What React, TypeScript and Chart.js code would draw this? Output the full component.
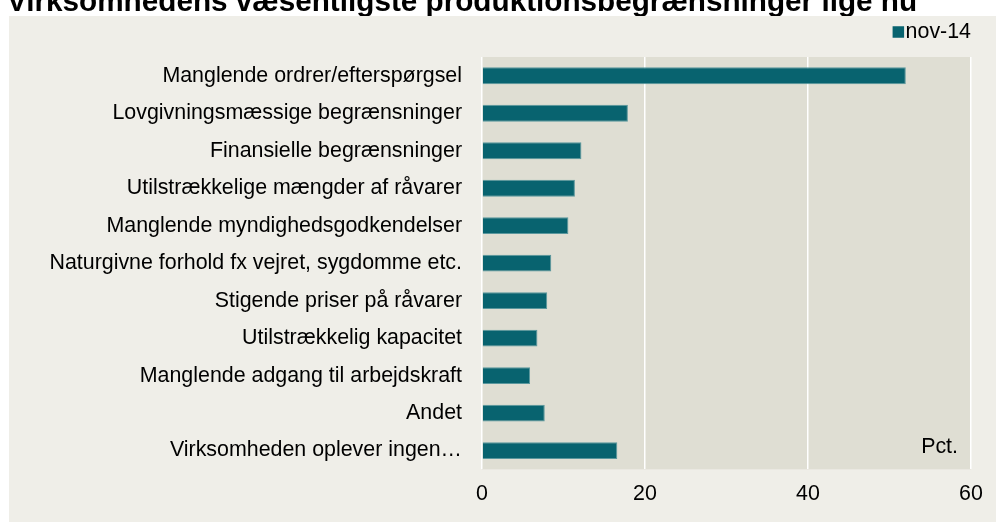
import React, { useEffect, useRef } from "react";
import { Chart, registerables } from "chart.js";

Chart.register(...registerables);

const TITLE = "Virksomhedens væsentligste produktionsbegrænsninger lige nu";
const SERIES_LABEL = "nov-14";
const UNIT_LABEL = "Pct.";

const categories = [
  "Manglende ordrer/efterspørgsel",
  "Lovgivningsmæssige begrænsninger",
  "Finansielle begrænsninger",
  "Utilstrækkelige mængder af råvarer",
  "Manglende myndighedsgodkendelser",
  "Naturgivne forhold fx vejret, sygdomme etc.",
  "Stigende priser på råvarer",
  "Utilstrækkelig kapacitet",
  "Manglende adgang til arbejdskraft",
  "Andet",
  "Virksomheden oplever ingen…",
];

const values = [52.0, 17.9, 12.2, 11.4, 10.6, 8.5, 8.0, 6.8, 5.9, 7.7, 16.6];

const xTicks = [0, 20, 40, 60];

const FONT = "'Liberation Sans', Arial, sans-serif";
const FONT_SIZE = 21.4;
const BAR_COLOR = "#08636f";
const BAR_BORDER = "#5a979d";
const OUTER_BG = "#efeee8";
const PLOT_BG = "#dfded3";

const decor = {
  id: "decor",
  beforeDraw(chart: any) {
    const { ctx, width, height, chartArea } = chart;
    ctx.save();
    ctx.fillStyle = "#ffffff";
    ctx.fillRect(0, 0, width, height);
    ctx.fillStyle = "#000000";
    ctx.font = `bold 29.7px ${FONT}`;
    ctx.textAlign = "left";
    ctx.textBaseline = "alphabetic";
    ctx.fillText(TITLE, 7, 11);
    ctx.fillStyle = OUTER_BG;
    ctx.fillRect(9, 16, width - 9, height - 16);
    ctx.fillStyle = PLOT_BG;
    ctx.fillRect(
      chartArea.left,
      chartArea.top,
      chartArea.right - chartArea.left,
      chartArea.bottom - chartArea.top
    );
    ctx.restore();
  },
  afterDraw(chart: any) {
    const { ctx, chartArea } = chart;
    ctx.save();
    // legend
    ctx.font = `${FONT_SIZE}px ${FONT}`;
    ctx.textBaseline = "middle";
    ctx.textAlign = "left";
    const label = chart.data.datasets[0].label;
    const tw = ctx.measureText(label).width;
    const textX = chartArea.right - tw;
    const cy = 32;
    ctx.fillStyle = chart.data.datasets[0].backgroundColor;
    ctx.fillRect(textX - 13, cy - 5.75, 11.5, 11.5);
    ctx.fillStyle = "#000000";
    ctx.fillText(label, textX, cy);
    // unit label
    ctx.textAlign = "right";
    ctx.fillText(UNIT_LABEL, chartArea.right - 13, chartArea.bottom - 22);
    ctx.restore();
  },
};

export default function App() {
  const ref = useRef<HTMLCanvasElement | null>(null);

  useEffect(() => {
    if (!ref.current) return;
    const chart = new Chart(ref.current, {
      type: "bar",
      data: {
        labels: categories,
        datasets: [
          {
            label: SERIES_LABEL,
            data: values,
            backgroundColor: BAR_COLOR,
            borderColor: BAR_BORDER,
            borderWidth: 1,
            barPercentage: 0.9,
            categoryPercentage: 0.5,
          },
        ],
      },
      options: {
        indexAxis: "y",
        responsive: false,
        animation: false,
        devicePixelRatio: 1,
        layout: { padding: { top: 57, right: 25, left: 0, bottom: 3 } },
        plugins: {
          legend: { display: false },
          title: { display: false },
          tooltip: { enabled: false },
        },
        scales: {
          x: {
            min: 0,
            max: 60,
            afterBuildTicks: (scale: any) => {
              scale.ticks = xTicks.map((v) => ({ value: v }));
            },
            grid: { color: "#ffffff", lineWidth: 1.5, drawTicks: false },
            border: { display: false },
            ticks: {
              padding: 12,
              color: "#000000",
              font: { family: FONT, size: FONT_SIZE },
            },
          },
          y: {
            afterFit: (scale: any) => {
              scale.width = 482;
            },
            grid: { display: false, drawTicks: false },
            border: { display: false },
            ticks: {
              padding: 20,
              color: "#000000",
              autoSkip: false,
              font: { family: FONT, size: FONT_SIZE },
            },
          },
        },
      },
      plugins: [decor],
    });
    return () => chart.destroy();
  }, []);

  return (
    <div style={{ position: "absolute", left: 0, top: 0, width: 996, height: 522 }}>
      <canvas ref={ref} width={996} height={522} style={{ display: "block" }} />
    </div>
  );
}
